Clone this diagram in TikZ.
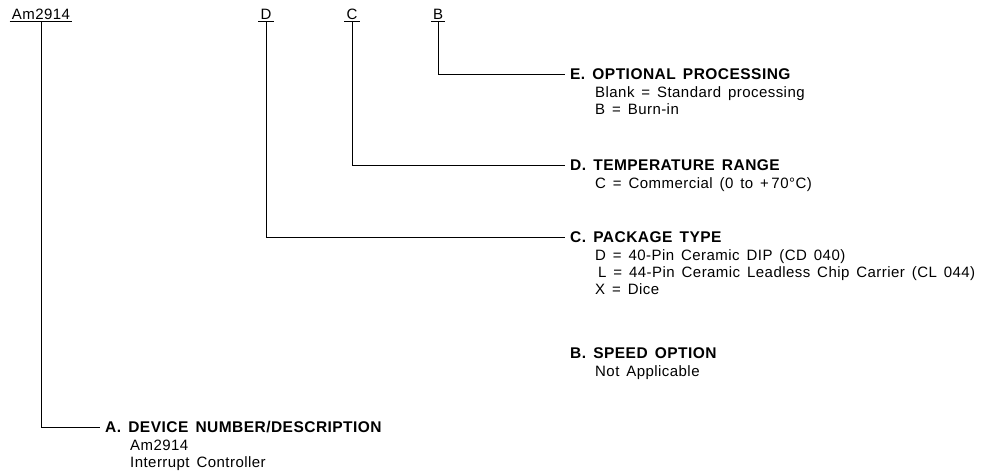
\documentclass[tikz,border=0pt]{standalone}
\usepackage{fontspec}
\setmainfont{Liberation Sans}[LetterSpace=3,WordSpace=1.5]
\usetikzlibrary{positioning}
\tikzset{
  code/.style={anchor=base, inner sep=2pt, font=\fontsize{15}{17}\selectfont},
  head/.style={anchor=west, inner sep=5pt, font=\bfseries\fontsize{15.5}{17}\selectfont},
  body/.style={inner sep=0pt, align=left, font=\fontsize{15}{17}\selectfont},
  lead/.style={line width=1pt},
}
\begin{document}
\begin{tikzpicture}[x=1pt,y=-1pt]
\useasboundingbox (0,0) rectangle (987,475);

% Order code letters
\node[code] (am) at (41,19) {Am2914};
\node[code] (pkg) at (266,19) {D};
\node[code] (tmp) at (352,19) {C};
\node[code] (opt) at (438,19) {B};

% underlines
\foreach \n in {am,pkg,tmp,opt}
  \draw[lead] ([yshift=-2pt]\n.base west) -- ([yshift=-2pt]\n.base east);

% Sections
\node[head] (headE) at (565,74) {E. OPTIONAL PROCESSING};
\node[body, below right=2pt and 30pt of headE.south west] (bodyE)
  {Blank = Standard processing\\B = Burn-in};

\node[head] (headD) at (565,165) {D. TEMPERATURE RANGE};
\node[body, below right=2pt and 30pt of headD.south west] (bodyD)
  {C = Commercial (0 to +\,70°C)};

\node[head] (headC) at (565,237) {C. PACKAGE TYPE};
\node[body, below right=2pt and 30pt of headC.south west] (bodyC)
  {D = 40-Pin Ceramic DIP (CD 040)\\
   \kern3pt L = 44-Pin Ceramic Leadless Chip Carrier (CL 044)\\
   X = Dice};

\node[head] (headB) at (565,353) {B. SPEED OPTION};
\node[body, below right=2pt and 30pt of headB.south west] (bodyB)
  {Not Applicable};

\node[head] (headA) at (100,427) {A. DEVICE NUMBER/DESCRIPTION};
\node[body, below right=2pt and 30pt of headA.south west] (bodyA)
  {Am2914\\Interrupt Controller};

% leaders
\draw[lead] ([yshift=-2pt]opt.base) |- (headE.west);
\draw[lead] ([yshift=-2pt]tmp.base) |- (headD.west);
\draw[lead] ([yshift=-2pt]pkg.base) |- (headC.west);
\draw[lead] ([yshift=-2pt]am.base) |- (headA.west);

\end{tikzpicture}
\end{document}
